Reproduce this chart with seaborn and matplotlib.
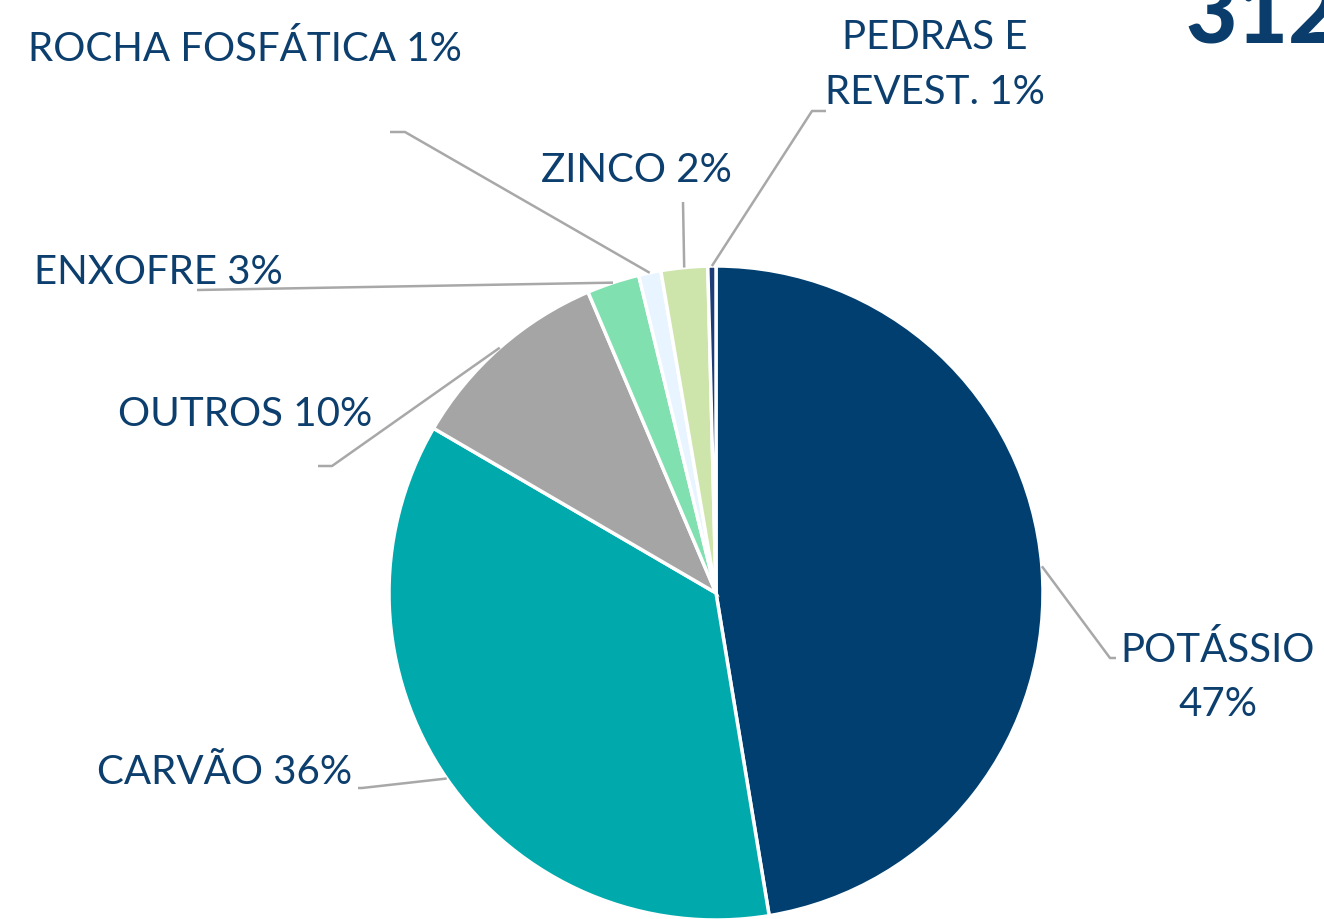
import numpy as np
import matplotlib
matplotlib.use("Agg")
import matplotlib.pyplot as plt
import seaborn as sns

# shares (labels keep the rounded text of the original)
categories = ["POTÁSSIO", "CARVÃO", "OUTROS", "ENXOFRE", "ROCHA FOSFÁTICA", "ZINCO", "PEDRAS E REVEST."]
values = [47.4, 36.0, 10.2, 2.6, 1.1, 2.3, 0.4]
label_texts = ["POTÁSSIO\n47%", "CARVÃO 36%", "OUTROS 10%", "ENXOFRE 3%",
               "ROCHA FOSFÁTICA 1%", "ZINCO 2%", "PEDRAS E\nREVEST. 1%"]
colors = ["#003f6f", "#00a9ac", "#a5a5a5", "#80e0b0", "#e8f4ff", "#cde4aa", "#1d3c78"]
headline = "312"

W, H = 1324, 919
TXT = "#0d3f6e"
LINE = "#a8a8a8"

sns.set_theme(style="white")
plt.rcParams["font.family"] = ["Lato", "DejaVu Sans"]

fig = plt.figure(figsize=(W / 100, H / 100), dpi=100)
ax = fig.add_axes([0, 0, 1, 1])

cx, cy, r = 716, H - 593, 327
wedges, _ = ax.pie(values, colors=sns.color_palette(colors), startangle=90, counterclock=False,
                   center=(cx, cy), radius=r, frame=True,
                   wedgeprops=dict(edgecolor="white", linewidth=2.5))
ax.set_xlim(0, W)
ax.set_ylim(0, H)
ax.set_aspect("equal")
ax.axis("off")

def py(y):
    return H - y

# leader line elbows and text placement (pixel coords, y from top)
elbows = [
    [(1110, 658), (1116, 658)],
    [(362, 788), (358, 788)],
    [(332, 466), (318, 466)],
    [(197, 290)],
    [(405, 132), (390, 132)],
    [(683, 202)],
    [(812, 111), (826, 111)],
]
text_pos = [
    (1218, 677, "center"),
    (352, 773, "right"),
    (372, 414, "right"),
    (283, 272, "right"),
    (462, 49, "right"),
    (732, 171, "right"),
    (935, 65, "center"),
]

for w, el, (tx, ty, ha), lab in zip(wedges, elbows, text_pos, label_texts):
    mid = np.deg2rad((w.theta1 + w.theta2) / 2)
    ax0, ay0 = cx + r * np.cos(mid), cy + r * np.sin(mid)
    xs = [ax0] + [p[0] for p in el]
    ys = [ay0] + [py(p[1]) for p in el]
    ax.plot(xs, ys, color=LINE, lw=1.8, solid_capstyle="butt", zorder=1)
    ax.text(tx, py(ty), lab, ha=ha, va="center", fontsize=29, color=TXT,
            linespacing=1.6, multialignment="center")

ax.text(1185, py(43), headline, ha="left", va="baseline", fontsize=64,
        fontweight="black", color="#0a3d6b")

fig.savefig("out.png", dpi=100)
